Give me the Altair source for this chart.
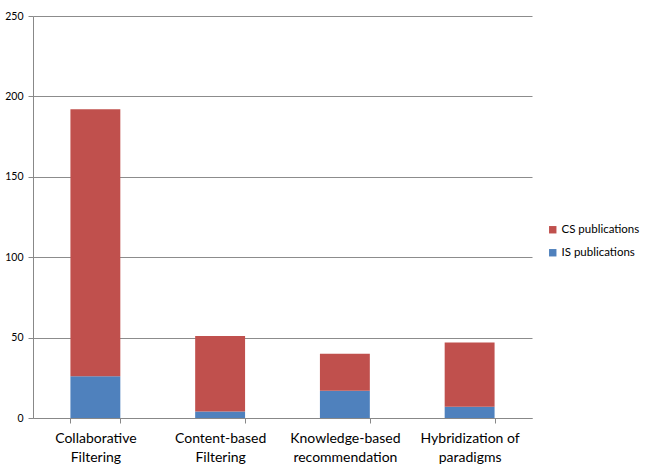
import altair as alt
import pandas as pd

categories = ["Collaborative\nFiltering", "Content-based\nFiltering",
              "Knowledge-based\nrecommendation", "Hybridization of\nparadigms"]
is_values = [26, 4, 17, 7]
cs_values = [166, 47, 23, 40]
series = ["CS publications", "IS publications"]
colors = ["#C0504D", "#4F81BD"]

rows = []
for c, iv, cv in zip(categories, is_values, cs_values):
    rows.append({"cat": c, "series": "IS publications", "value": iv, "ord": 0})
    rows.append({"cat": c, "series": "CS publications", "value": cv, "ord": 1})
df = pd.DataFrame(rows)

FONT = "Lato"

chart = alt.Chart(df).mark_bar().encode(
    x=alt.X("cat:N", sort=categories, title=None,
            scale=alt.Scale(paddingInner=0.6, paddingOuter=0.3),
            axis=alt.Axis(labelAngle=0, tickBand="extent", grid=False,
                          labelExpr="split(datum.label, '\\n')",
                          labelFontSize=14, labelLineHeight=19, labelPadding=8,
                          labelColor="#000000", labelFont=FONT,
                          domainColor="#888888", tickColor="#888888", tickSize=5)),
    y=alt.Y("value:Q", title=None,
            scale=alt.Scale(domain=[0, 250], nice=False),
            axis=alt.Axis(values=[0, 50, 100, 150, 200, 250], tickSize=5,
                          labelFontSize=10.5, labelFont=FONT, labelColor="#000000",
                          labelPadding=5,
                          gridColor="#8c8c8c", domainColor="#888888", tickColor="#888888")),
    color=alt.Color("series:N", scale=alt.Scale(domain=series, range=colors),
                    legend=alt.Legend(title=None, orient="none", legendX=514, legendY=208,
                                      symbolType="square", symbolSize=55, symbolStrokeWidth=0,
                                      labelFontSize=11.5, labelFont=FONT, labelColor="#000000",
                                      labelOffset=3, rowPadding=10)),
    order=alt.Order("ord:Q"),
).properties(
    width=499, height=402,
    autosize=alt.AutoSizeParams(type="none"),
    padding={"left": 33, "top": 16, "right": 114, "bottom": 48},
).configure_view(stroke=None)

chart.save("out.html", embed_options={"renderer": "svg", "actions": False})
